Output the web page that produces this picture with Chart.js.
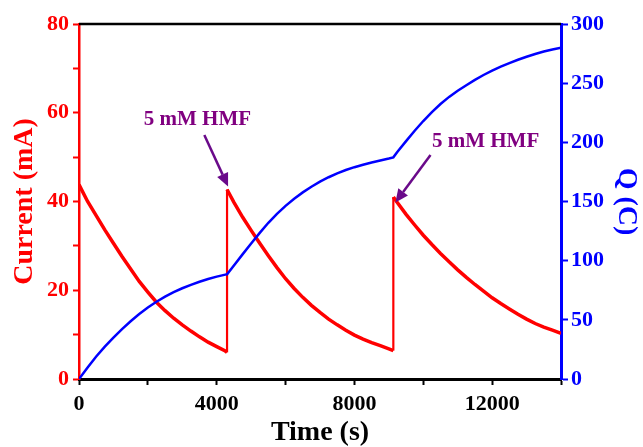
<!DOCTYPE html>
<html lang="en">
<head>
<meta charset="UTF-8">
<title>Current and charge vs time</title>
<script src="https://cdn.jsdelivr.net/npm/chart.js"></script>
<style>
  body { margin: 0; background: #fff; }
</style>
</head>
<body>
<canvas id="chart" width="643" height="447"></canvas>
<script>
// current (mA) vs time (s) -- repeated time = jump when HMF is added
const currentTime = [
  0, 250, 500, 750, 1000, 1250, 1500, 1750, 2000, 2250, 2500, 2750, 3000, 3250, 3500, 3750, 4000, 4250, 4300,
  4300, 4500, 4750, 5000, 5250, 5500, 5750, 6000, 6250, 6500, 6750, 7000, 7250, 7500, 7750, 8000, 8250, 8500, 8750, 9000, 9130,
  9130, 9250, 9500, 9750, 10000, 10250, 10500, 10750, 11000, 11250, 11500, 11750, 12000, 12250, 12500, 12750, 13000, 13250, 13500, 13750, 14000
];
const currentValues = [
  43.8, 40.0, 36.8, 33.6, 30.6, 27.6, 24.8, 22.0, 19.6, 17.3, 15.4, 13.7, 12.2, 10.8, 9.5, 8.3, 7.3, 6.3, 6.0,
  42.7, 39.8, 36.5, 33.5, 30.6, 27.8, 25.1, 22.6, 20.4, 18.4, 16.6, 15.0, 13.5, 12.2, 11.0, 9.9, 9.0, 8.2, 7.5, 6.8, 6.4,
  41.0, 39.7, 37.1, 34.7, 32.4, 30.3, 28.3, 26.4, 24.6, 22.9, 21.3, 19.8, 18.3, 17.0, 15.8, 14.6, 13.5, 12.5, 11.7, 11.0, 10.3
];

// accumulated charge Q (C)
const chargeTime = [
  0, 250, 500, 750, 1000, 1250, 1500, 1750, 2000, 2250, 2500, 2750, 3000, 3250, 3500, 3750, 4000, 4250, 4300,
  4500, 4750, 5000, 5250, 5500, 5750, 6000, 6250, 6500, 6750, 7000, 7250, 7500, 7750, 8000, 8250, 8500, 8750, 9000, 9130,
  9250, 9500, 9750, 10000, 10250, 10500, 10750, 11000, 11250, 11500, 11750, 12000, 12250, 12500, 12750, 13000, 13250, 13500, 13750, 14000
];
const chargeValues = [
  0, 9.8, 19.0, 27.4, 35.0, 42.2, 48.8, 54.9, 60.4, 65.3, 69.6, 73.4, 76.7, 79.6, 82.2, 84.5, 86.5, 88.2, 88.5,
  96.0, 105.3, 114.5, 123.5, 132.0, 139.5, 146.3, 152.3, 157.7, 162.5, 166.8, 170.5, 173.8, 176.6, 179.0, 181.1, 183.0, 184.7, 186.3, 187.3,
  192.0, 201.0, 209.8, 218.0, 225.6, 232.4, 238.4, 243.6, 248.3, 252.8, 256.9, 260.6, 264.0, 267.0, 269.8, 272.3, 274.7, 276.8, 278.5, 280.0
];

const timeTickLabels = [0, 4000, 8000, 12000];
const currentTickLabels = [0, 20, 40, 60, 80];
const chargeTickLabels = [0, 50, 100, 150, 200, 250, 300];

// arrows "5 mM HMF" (time, current)
const notes = [
  { text: '5 mM HMF', at: [3440, 58.5], tail: [3640, 55.0], tip: [4330, 43.4] },
  { text: '5 mM HMF', at: [11810, 53.5], tail: [10210, 50.5], tip: [9190, 39.8] }
];

const serif = 'Liberation Serif, Times New Roman, serif';
const RED = '#ff0000';
const BLUE = '#0000ff';
const PURPLE = '#800080';

const framePlugin = {
  id: 'frame',
  afterDatasetsDraw(chart) {
    const {ctx, chartArea} = chart;
    ctx.save();
    ctx.strokeStyle = '#000';
    ctx.lineWidth = 2.5;
    ctx.beginPath();
    ctx.moveTo(chartArea.left, chartArea.top);
    ctx.lineTo(chartArea.right, chartArea.top);
    ctx.stroke();
    ctx.restore();
  }
};

const notesPlugin = {
  id: 'notes',
  afterDatasetsDraw(chart) {
    const {ctx, scales: {x, y}} = chart;
    ctx.save();
    notes.forEach(n => {
      const tx = x.getPixelForValue(n.tail[0]), ty = y.getPixelForValue(n.tail[1]);
      const hx = x.getPixelForValue(n.tip[0]), hy = y.getPixelForValue(n.tip[1]);
      const ang = Math.atan2(hy - ty, hx - tx);
      const headLen = 13, headW = 6;
      const bx = hx - headLen * Math.cos(ang), by = hy - headLen * Math.sin(ang);
      ctx.strokeStyle = '#6a0a8a';
      ctx.fillStyle = '#6a0a8a';
      ctx.lineWidth = 2.5;
      ctx.beginPath();
      ctx.moveTo(tx, ty);
      ctx.lineTo(bx, by);
      ctx.stroke();
      ctx.beginPath();
      ctx.moveTo(hx, hy);
      ctx.lineTo(bx + headW * Math.sin(ang), by - headW * Math.cos(ang));
      ctx.lineTo(bx - headW * Math.sin(ang), by + headW * Math.cos(ang));
      ctx.closePath();
      ctx.fill();

      ctx.fillStyle = PURPLE;
      ctx.font = 'bold 21px ' + serif;
      ctx.textAlign = 'center';
      ctx.textBaseline = 'middle';
      ctx.fillText(n.text, x.getPixelForValue(n.at[0]), y.getPixelForValue(n.at[1]));
    });
    ctx.restore();
  }
};

new Chart(document.getElementById('chart'), {
  type: 'line',
  data: {
    datasets: [{
      label: 'Q (C)',
      data: chargeTime.map((t, i) => ({x: t, y: chargeValues[i]})),
      yAxisID: 'y1',
      borderColor: BLUE,
      borderWidth: 2.5,
      pointRadius: 0,
      order: 0
    }, {
      label: 'Current (mA)',
      data: currentTime.map((t, i) => ({x: t, y: currentValues[i]})),
      yAxisID: 'y',
      borderColor: RED,
      borderWidth: 3.5,
      pointRadius: 0,
      order: 1,
      segment: {
        borderWidth: ctx => ctx.p0.parsed.x === ctx.p1.parsed.x ? 2.2 : undefined
      }
    }]
  },
  options: {
    responsive: false,
    animation: false,
    devicePixelRatio: 1,
    layout: { padding: { top: 24, left: 0, right: 0, bottom: 0 } },
    plugins: { legend: { display: false }, tooltip: { enabled: false } },
    scales: {
      x: {
        type: 'linear',
        min: 0, max: 14000,
        afterFit: s => { s.height = 68; },
        border: { color: '#000', width: 3 },
        grid: { drawOnChartArea: false, tickLength: 6, tickWidth: 2, tickColor: '#000' },
        ticks: {
          stepSize: 2000,
          color: '#000',
          padding: 6,
          font: { family: serif, size: 22, weight: 'bold' },
          callback: v => timeTickLabels.includes(v) ? v : ''
        },
        title: {
          display: true,
          text: 'Time (s)',
          color: '#000',
          padding: { top: 0, bottom: 0 },
          font: { family: serif, size: 28, weight: 'bold', lineHeight: 1 }
        }
      },
      y: {
        position: 'left',
        min: 0, max: 80,
        afterFit: s => { s.width = 79; },
        border: { color: RED, width: 2.5 },
        grid: { drawOnChartArea: false, tickLength: 6, tickWidth: 2, tickColor: RED },
        ticks: {
          stepSize: 10,
          color: RED,
          padding: 4,
          font: { family: serif, size: 22, weight: 'bold' },
          callback: v => currentTickLabels.includes(v) ? v : ''
        },
        title: {
          display: true,
          text: 'Current (mA)',
          color: RED,
          padding: { top: 11, bottom: 0 },
          font: { family: serif, size: 28, weight: 'bold', lineHeight: 1 }
        }
      },
      y1: {
        position: 'right',
        min: 0, max: 300,
        afterFit: s => { s.width = 82; },
        border: { color: BLUE, width: 3 },
        grid: { drawOnChartArea: false, tickLength: 7, tickWidth: 2, tickColor: BLUE },
        ticks: {
          stepSize: 50,
          color: BLUE,
          padding: 3,
          font: { family: serif, size: 22, weight: 'bold' },
          callback: v => chargeTickLabels.includes(v) ? v : ''
        },
        title: {
          display: true,
          text: 'Q (C)',
          color: BLUE,
          padding: { top: 3, bottom: 0 },
          font: { family: serif, size: 28, weight: 'bold', lineHeight: 1 }
        }
      }
    }
  },
  plugins: [framePlugin, notesPlugin]
});
</script>
</body>
</html>
